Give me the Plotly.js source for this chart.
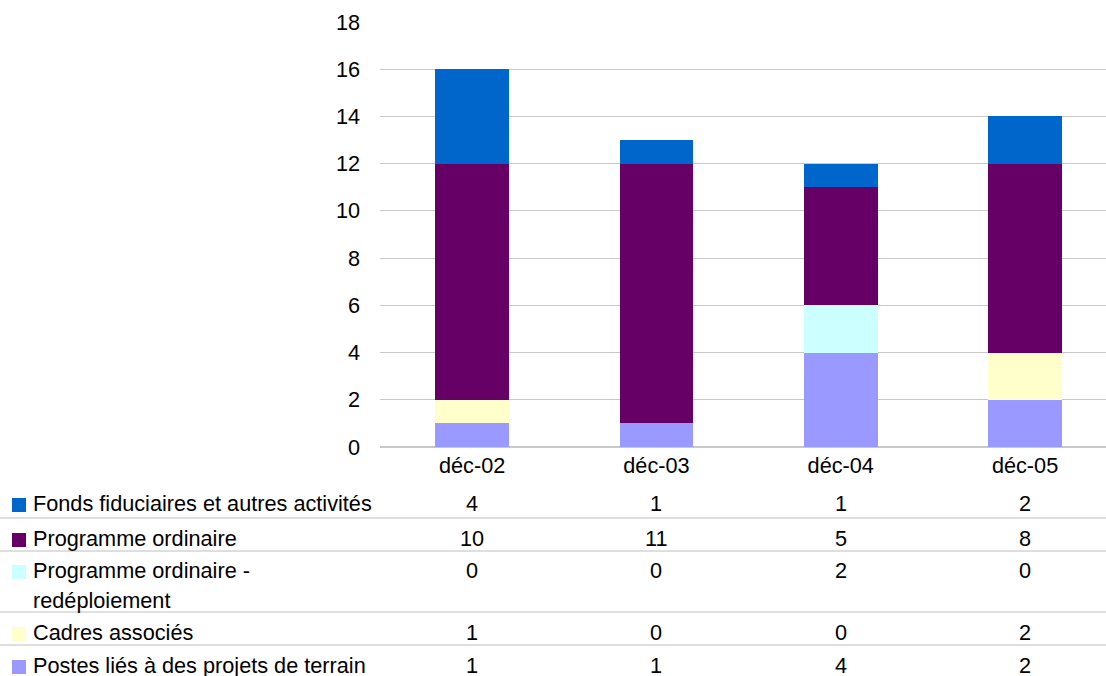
<!DOCTYPE html>
<html><head><meta charset="utf-8">
<script src="https://cdn.plot.ly/plotly-3.0.1.min.js"></script>
<style>html,body{margin:0;padding:0;background:#fff;overflow:hidden}</style>
</head><body><div id="chart" style="width:1106px;height:676px"></div>
<script>
const categories = ["déc-02", "déc-03", "déc-04", "déc-05"];
const seriesNames = ["Fonds fiduciaires et autres activités", "Programme ordinaire", "Programme ordinaire -|redéploiement", "Cadres associés", "Postes liés à des projets de terrain"];
const fonds = [4, 1, 1, 2];
const programme = [10, 11, 5, 8];
const redeploiement = [0, 0, 2, 0];
const cadres = [1, 0, 0, 2];
const postes = [1, 1, 4, 2];
const colors = ["#0066CC", "#660066", "#CCFFFF", "#FFFFCC", "#9999FF"];
const yTicks = [0, 2, 4, 6, 8, 10, 12, 14, 16, 18];

const tableValues = [fonds, programme, redeploiement, cadres, postes];
const FONT = "Liberation Sans, Arial, sans-serif";
const FS = 21.7;

// pixel helpers
const L = 380, T = 22, B = 447, W = 1106, H = 676;
const pw = W - L, ph = B - T;
const px = v => (v - L) / pw;
const py = v => (B - v) / ph;

// stack bottom-to-top
const order = [4, 3, 2, 1, 0];
const traces = order.map(i => ({
  type: "bar",
  x: categories.map((c, k) => k),
  y: tableValues[i],
  name: seriesNames[i].replace("|", " "),
  marker: {color: colors[i], line: {width: 0}},
  width: 0.4,
  hoverinfo: "skip"
}));

const rowY = [503, 538, 570, 632, 665];
const lineY = [518, 551, 612, 645];

const annotations = [];
const shapes = [];
seriesNames.forEach((n, i) => {
  n.split("|").forEach((part, j) => {
    annotations.push({xref: "paper", yref: "paper", x: px(31), y: py(rowY[i] + j * 30), xanchor: "left", yanchor: "middle",
      text: part, showarrow: false, align: "left", font: {family: FONT, size: FS, color: "#000"}});
  });
  shapes.push({type: "rect", xref: "paper", yref: "paper", x0: px(12), x1: px(26), y0: py(rowY[i] - 5), y1: py(rowY[i] + 9),
    fillcolor: colors[i], line: {width: 0}});
  tableValues[i].forEach((v, k) => {
    annotations.push({xref: "x", yref: "paper", x: k, y: py(rowY[i]), xanchor: "center", yanchor: "middle",
      text: String(v), showarrow: false, font: {family: FONT, size: FS, color: "#000"}});
  });
});
lineY.forEach(y => shapes.push({type: "line", xref: "paper", yref: "paper", x0: px(0), x1: px(W), y0: py(y), y1: py(y),
  line: {color: "#BEBEBE", width: 1}}));

const layout = {
  width: W, height: H,
  margin: {l: L, r: 0, t: T, b: H - B, pad: 0},
  barmode: "stack",
  showlegend: false,
  paper_bgcolor: "#fff", plot_bgcolor: "#fff",
  font: {family: FONT, size: FS, color: "#000"},
  xaxis: {type: "linear", range: [-0.5, -0.5 + pw / 184.3], tickvals: categories.map((c, k) => k), ticktext: categories,
    showgrid: false, zeroline: false, showline: false, ticks: "", ticklabelstandoff: 3, fixedrange: true},
  yaxis: {range: [0, 18], tickvals: yTicks, showgrid: true, gridcolor: "#C8C8C8", gridwidth: 1,
    zeroline: true, zerolinecolor: "#C8C8C8", zerolinewidth: 2, showline: false, ticks: "", ticklabelstandoff: 19, fixedrange: true},
  annotations: annotations,
  shapes: shapes
};
Plotly.newPlot("chart", traces, layout, {staticPlot: true, displayModeBar: false});
</script></body></html>
